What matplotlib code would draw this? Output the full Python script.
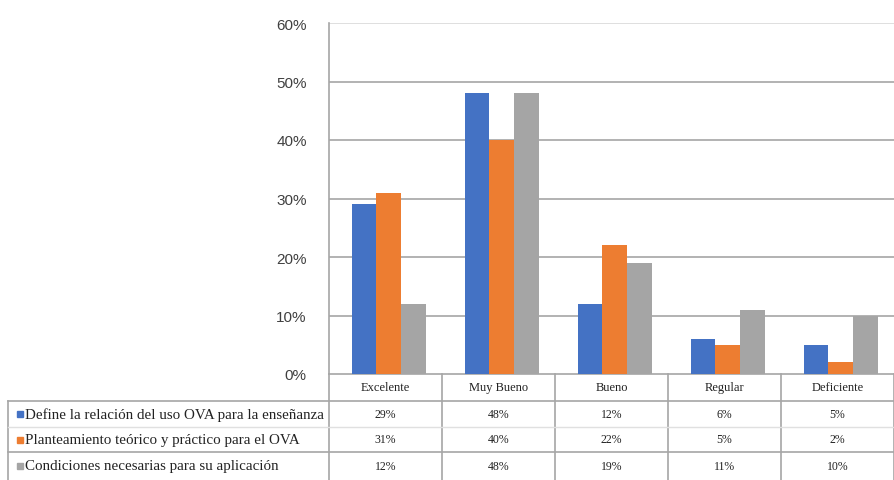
import matplotlib
matplotlib.use("Agg")
import matplotlib.pyplot as plt
from matplotlib.transforms import blended_transform_factory
from matplotlib.lines import Line2D
from matplotlib.patches import Rectangle

categories = ["Excelente", "Muy Bueno", "Bueno", "Regular", "Deficiente"]
series_names = [
    "Define la relación del uso OVA para la enseñanza",
    "Planteamiento teórico y práctico para el OVA",
    "Condiciones necesarias para su aplicación",
]
relacion = [29, 48, 12, 6, 5]
planteamiento = [31, 40, 22, 5, 2]
condiciones = [12, 48, 19, 11, 10]
series_values = [relacion, planteamiento, condiciones]
colors = ["#4472C4", "#ED7D31", "#A5A5A5"]
y_ticks = [0, 10, 20, 30, 40, 50, 60]

W, H = 894, 481
fig = plt.figure(figsize=(W / 100, H / 100), dpi=100)
ax_left, ax_right, ax_top, ax_bot = 329, 894, 24, 375
ax = fig.add_axes([ax_left / W, (H - ax_bot) / H, (ax_right - ax_left) / W, (ax_bot - ax_top) / H])

n = len(categories)
bar_w = 0.22
x = list(range(n))
for i, vals in enumerate(series_values):
    ax.bar([xi + 0.03 + (i - 1) * bar_w for xi in x], vals, width=bar_w, color=colors[i], zorder=3)

ax.set_xlim(-0.5, n - 0.5)
ax.set_ylim(0, 60)
ax.set_yticks(y_ticks)
ax.set_yticklabels([f"{t}%" for t in y_ticks], fontsize=11, color="#404040", family="Liberation Sans")
ax.set_xticks([])
ax.tick_params(axis="y", length=0, pad=16)
for t in y_ticks[1:-1]:
    ax.axhline(t, color="#A6A6A6", lw=1.2, zorder=1)
ax.axhline(60, color="#D9D9D9", lw=1.2, zorder=1)
for s in ["top", "right", "bottom"]:
    ax.spines[s].set_visible(False)
ax.spines["left"].set_color("#A6A6A6")
ax.spines["left"].set_linewidth(1.2)

# data table below the axes
px = ax_bot - ax_top
tr = blended_transform_factory(ax.transData, ax.transAxes)
unit = (ax_right - ax_left) / n
left_x = -0.5 - (ax_left - 8) / unit
rows_px = [0, 27, 53, 78, 106]
ys = [-r / px for r in rows_px]
line_kw = dict(transform=tr, clip_on=False, color="#A6A6A6", lw=1.2)

# header row (categories), no left label cell
ax.add_line(Line2D([-0.5, n - 0.5], [ys[0], ys[0]], **line_kw))
for j in range(n + 1):
    ax.add_line(Line2D([j - 0.5, j - 0.5], [ys[0], ys[4]], **line_kw))
ax.add_line(Line2D([left_x, left_x], [ys[1], ys[4]], **line_kw))
ax.add_line(Line2D([left_x, n - 0.5], [ys[1], ys[1]], **line_kw))
ax.add_line(Line2D([left_x, n - 0.5], [ys[2], ys[2]], transform=tr, clip_on=False, color="#E0E0E0", lw=1.0))
ax.add_line(Line2D([left_x, n - 0.5], [ys[3], ys[3]], **line_kw))

txt_kw = dict(transform=tr, clip_on=False, family="Liberation Serif", color="#222222", va="center")
for j, c in enumerate(categories):
    ax.text(j, (ys[0] + ys[1]) / 2, c, ha="center", fontsize=9, **txt_kw)
for i, name in enumerate(series_names):
    yc = (ys[i + 1] + ys[i + 2]) / 2
    ax.add_patch(Rectangle((left_x + 0.08, yc - 3 / px), 0.05, 6 / px, transform=tr,
                           clip_on=False, color=colors[i]))
    ax.text(left_x + 0.15, yc, name, ha="left", fontsize=10.8, **txt_kw)
    for j, v in enumerate(series_values[i]):
        ax.text(j, yc, f"{v}%", ha="center", fontsize=8.5, **txt_kw)

fig.savefig("out.png", dpi=100)
